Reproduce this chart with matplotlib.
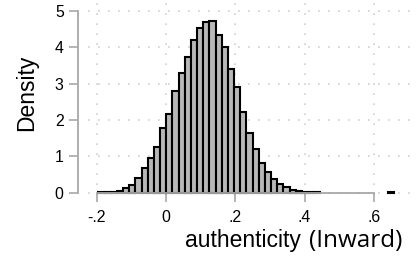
#!/usr/bin/env python3
"""Histogram of authenticity (Inward), Stata-like styling."""

import numpy as np
import matplotlib
matplotlib.use("Agg")
import matplotlib.pyplot as plt

# --- data -----------------------------------------------------------------
BIN_START = -0.195
BIN_WIDTH = 0.0178
density = [
    0.01, 0.01, 0.02, 0.055, 0.12, 0.21, 0.41, 0.69, 0.95, 1.25,
    1.77, 2.17, 2.81, 3.30, 3.74, 4.20, 4.53, 4.70, 4.73, 4.35,
    4.02, 3.41, 2.90, 2.21, 1.63, 1.19, 0.82, 0.56, 0.37, 0.23,
    0.15, 0.07, 0.05, 0.03, 0.02, 0.01, 0.0, 0.0, 0.0, 0.0,
    0.0, 0.0, 0.0, 0.0, 0.0, 0.0, 0.0, 0.02,
]
x_ticks = [-0.2, 0, 0.2, 0.4, 0.6]
x_ticklabels = ["-.2", "0", ".2", ".4", ".6"]
y_ticks = [0, 1, 2, 3, 4, 5]

FONT = "Liberation Sans"
AXIS_GREY = "#a8a8a8"

fig = plt.figure(figsize=(4.17, 2.64), dpi=100)
ax = fig.add_axes([88 / 417, 0.263, 325 / 417, 0.737])

edges = BIN_START + BIN_WIDTH * np.arange(len(density))
# empty bins get no outline so the tail shows just the axis line
line_widths = [1.5 if h > 0 else 0 for h in density]
ax.bar(edges, density, width=BIN_WIDTH, align="edge",
       color="#b8b8b8", edgecolor="black", linewidth=line_widths, zorder=2)

ax.set_xlim(-0.225, 0.713)
ax.set_ylim(-0.05, 5.3)

# grid
ax.set_xticks(x_ticks)
ax.set_xticklabels(x_ticklabels)
ax.set_yticks(y_ticks)
ax.grid(True, color="#cfcfcf", linestyle=(0, (1, 5)), linewidth=1.2, zorder=0)
ax.set_axisbelow(True)

# spines
for side in ("top", "right"):
    ax.spines[side].set_visible(False)
ax.spines["left"].set_position(("outward", 7))
ax.spines["left"].set_bounds(0, 5)
ax.spines["bottom"].set_position(("data", 0))
ax.spines["bottom"].set_bounds(-0.2, 0.6)
for side in ("left", "bottom"):
    ax.spines[side].set_color(AXIS_GREY)
    ax.spines[side].set_linewidth(1.3)
    ax.spines[side].set_zorder(3)

ax.tick_params(axis="both", direction="out", length=6.5, width=1.2,
               color=AXIS_GREY, labelsize=11.4, pad=4)
ax.tick_params(axis="x", pad=6)
for lab in ax.get_xticklabels() + ax.get_yticklabels():
    lab.set_family(FONT)

fig.text(27 / 417, 171 / 264, "Density", rotation=90, ha="center", va="center",
         fontsize=16.5, family=FONT)
fig.text(185 / 417, 17 / 264, "authenticity", ha="left", va="baseline",
         fontsize=16.5, family=FONT)
fig.text(309 / 417, 17 / 264, "(Inward)", ha="left", va="baseline",
         fontsize=17.5, family="Open Sans")

fig.savefig("out.png", dpi=100)
